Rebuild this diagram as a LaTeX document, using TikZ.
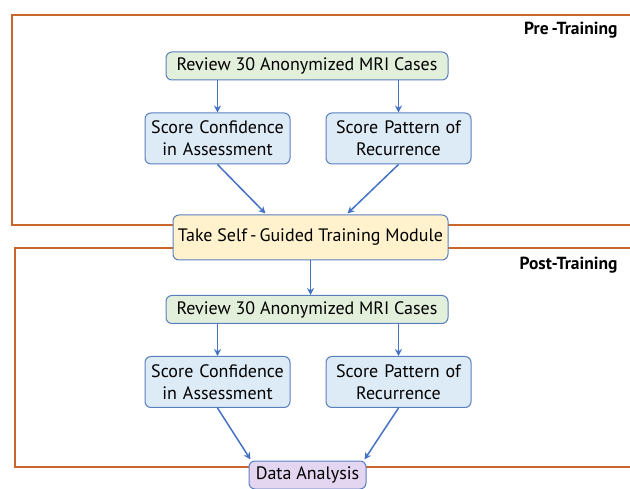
\documentclass[tikz,border=0pt]{standalone}
\usepackage{fontspec}
\setmainfont{PT Sans}
\usepackage{tikz}
\usetikzlibrary{positioning,arrows.meta}

\definecolor{frameorange}{HTML}{C9662A}
\definecolor{edgeblue}{HTML}{5A7FBF}
\definecolor{arrowblue}{HTML}{4472C4}
\definecolor{reviewgreen}{HTML}{E2EFDA}
\definecolor{scoreblue}{HTML}{DDEBF7}
\definecolor{trainyellow}{HTML}{FFF2CC}
\definecolor{datapurple}{HTML}{E4D5F0}

\tikzset{
  phasebox/.style={draw=frameorange, line width=1.6pt},
  phaselabel/.style={anchor=east, font=\fontsize{17.5}{20}\selectfont\bfseries},
  stepnode/.style={draw=edgeblue, line width=1pt, rounded corners=6pt, align=center,
    inner sep=2pt, font=\fontsize{18}{22}\selectfont},
  reviewnode/.style={stepnode, fill=reviewgreen, minimum width=282pt, minimum height=28pt},
  scorenode/.style={stepnode, fill=scoreblue, minimum width=145pt, minimum height=51pt, text width=141pt},
  trainnode/.style={stepnode, fill=trainyellow, minimum width=275pt, minimum height=45pt},
  datanode/.style={stepnode, fill=datapurple, minimum width=117pt, minimum height=28pt},
  flow/.style={draw=arrowblue, line width=1.5pt, -{Stealth[length=7pt,width=7pt]}}
}

\begin{document}
\begin{tikzpicture}[x=1pt,y=1pt]
      \useasboundingbox (0,0) rectangle (630,488);

      \draw [phasebox] (640,473) -- (12,473) -- (12,263) -- (640,263);
      \draw [phasebox] (640,240) -- (15,240) -- (15,21) -- (640,21);
      \node [phaselabel] (pre) at (621,458) {Pre\,-Training};
      \node [phaselabel] (post) at (621,223) {Post-Training};

      \node [reviewnode] (rev1) at (307,422) {Review 30 Anonymized MRI Cases};
      \node [scorenode, below=32pt of rev1, xshift=-89.5pt] (conf1) {Score Confidence\\in Assessment};
      \node [scorenode, right=35pt of conf1] (patt1) {Score Pattern of\\Recurrence};
      \node [trainnode] (train) at (310.5,250.5) {Take Self\,-\,Guided Training Module};

      \node [reviewnode] (rev2) at (307,178.5) {Review 30 Anonymized MRI Cases};
      \node [scorenode, below=32pt of rev2, xshift=-89.5pt] (conf2) {Score Confidence\\in Assessment};
      \node [scorenode, right=35pt of conf2] (patt2) {Score Pattern of\\Recurrence};
      \node [datanode] (data) at (307.5,13) {Data Analysis};

      \draw [flow] (rev1.south -| conf1) -- (conf1.north);
      \draw [flow] (rev1.south -| patt1) -- (patt1.north);
      \draw [flow] (conf1.south) -- ([xshift=-45pt,yshift=1pt]train.north);
      \draw [flow] (patt1.south) -- ([xshift=37pt,yshift=1pt]train.north);
      \draw [flow] (train.south) -- (train.south |- rev2.north);
      \draw [flow] (rev2.south -| conf2) -- (conf2.north);
      \draw [flow] (rev2.south -| patt2) -- (patt2.north);
      \draw [flow] (conf2.south) -- ([xshift=-57pt,yshift=1pt]data.north);
      \draw [flow] (patt2.south) -- ([xshift=57pt,yshift=1pt]data.north);
\end{tikzpicture}
\end{document}
